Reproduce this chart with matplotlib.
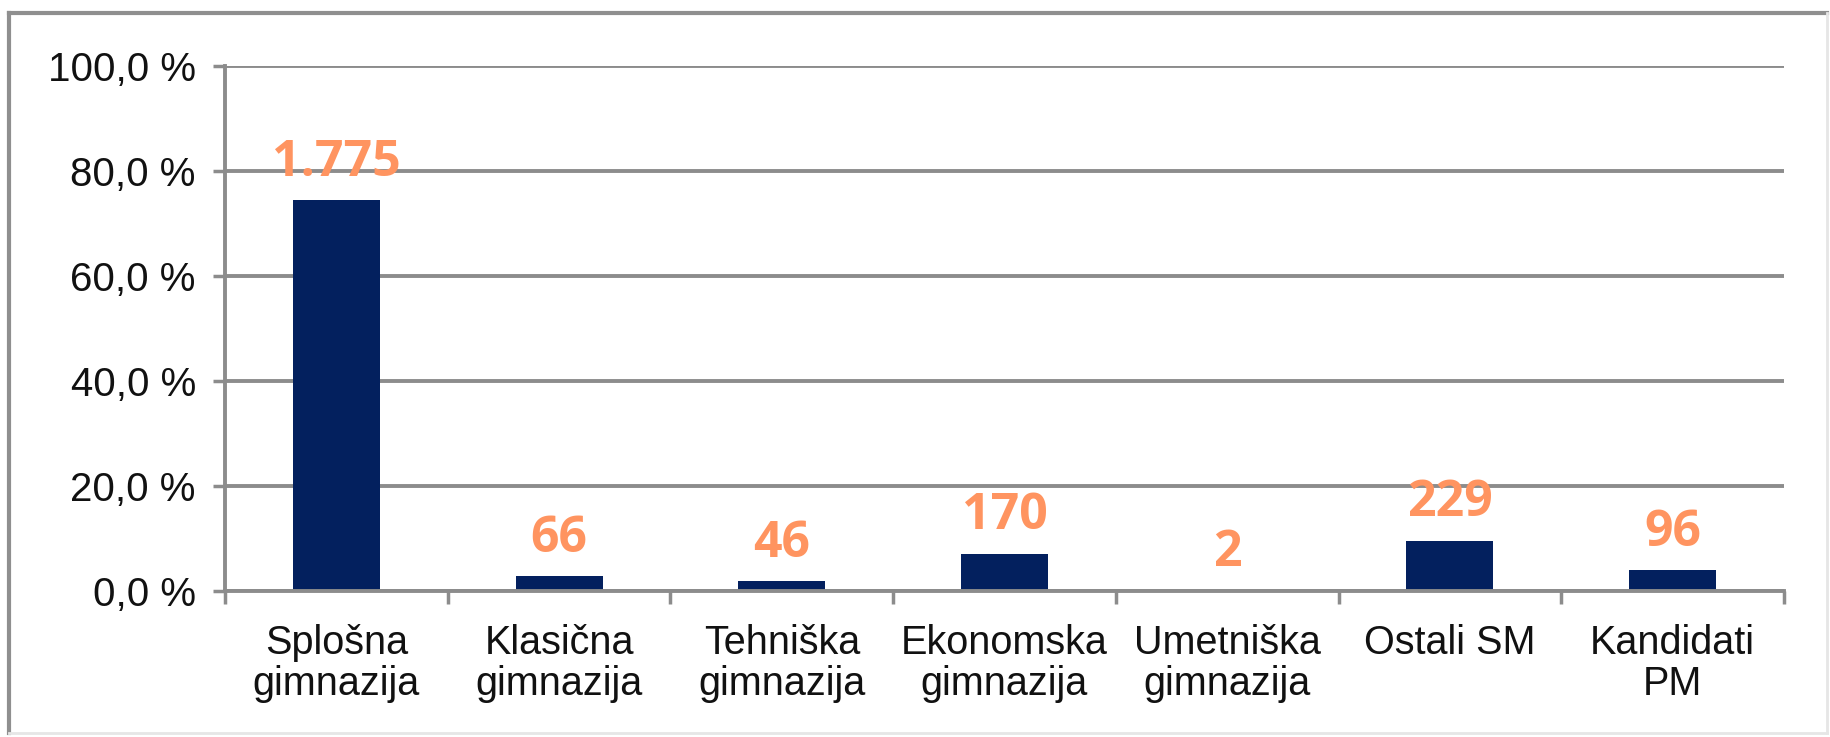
import matplotlib.pyplot as plt
from matplotlib.lines import Line2D
import numpy as np

# data
categories = ['Splošna\ngimnazija', 'Klasična\ngimnazija', 'Tehniška\ngimnazija',
              'Ekonomska\ngimnazija', 'Umetniška\ngimnazija', 'Ostali SM', 'Kandidati\nPM']
shares = [74.5, 2.8, 1.9, 7.1, 0.1, 9.6, 4.0]          # percent of candidates
counts = ['1.775', '66', '46', '170', '2', '229', '96']  # label above each bar
yticks = [0, 20, 40, 60, 80, 100]
ytick_labels = ['0,0 %', '20,0 %', '40,0 %', '60,0 %', '80,0 %', '100,0 %']

bar_color = '#03205E'
label_color = '#FF9460'
grid_color = '#8C8C8C'

fig = plt.figure(figsize=(18.31, 7.37), dpi=100)
ax = fig.add_axes([0.1229, 0.1981, 0.8514, 0.7117])

x = np.arange(len(categories))
ax.bar(x, shares, width=0.39, color=bar_color, zorder=3)

for i in range(len(x)):
    ax.annotate(counts[i], (x[i], shares[i]), xytext=(0, 27), textcoords='offset points',
                ha='center', va='center', fontsize=36, fontweight='bold',
                color=label_color, family='Open Sans', zorder=4)

ax.set_ylim(0, 100)
ax.set_xlim(-0.5, len(categories) - 0.5)
ax.set_yticks(yticks)
ax.set_yticklabels(ytick_labels, family='Liberation Sans', fontsize=29, color='#111111')
ax.set_xticks(x)
ax.set_xticklabels(categories, family='Liberation Sans', fontsize=28.5, color='#111111',
                   linespacing=1.1)
ax.set_xticks(np.arange(len(categories) + 1) - 0.5, minor=True)

ax.tick_params(axis='x', which='major', length=0, pad=24)
ax.tick_params(axis='x', which='minor', length=9, width=2.5, color=grid_color, direction='out')
ax.tick_params(axis='y', length=9, width=2.5, color=grid_color, pad=12)

ax.grid(axis='y', color=grid_color, linewidth=2.8, zorder=1)
for side in ['top', 'right']:
    ax.spines[side].set_visible(False)
for side in ['left', 'bottom']:
    ax.spines[side].set_color(grid_color)
    ax.spines[side].set_linewidth(2.8)
ax.spines['bottom'].set_zorder(5)

# outer frame of the chart area
fig.add_artist(Line2D([0.005, 0.005], [0.005, 0.983], color='#8F8F8F', linewidth=3))
fig.add_artist(Line2D([0.005, 0.998], [0.983, 0.983], color='#8F8F8F', linewidth=3))
fig.add_artist(Line2D([0.998, 0.998], [0.005, 0.983], color='#E6E6E6', linewidth=2))
fig.add_artist(Line2D([0.005, 0.998], [0.005, 0.005], color='#E6E6E6', linewidth=2))

fig.savefig('out.png', dpi=100, facecolor='white')
